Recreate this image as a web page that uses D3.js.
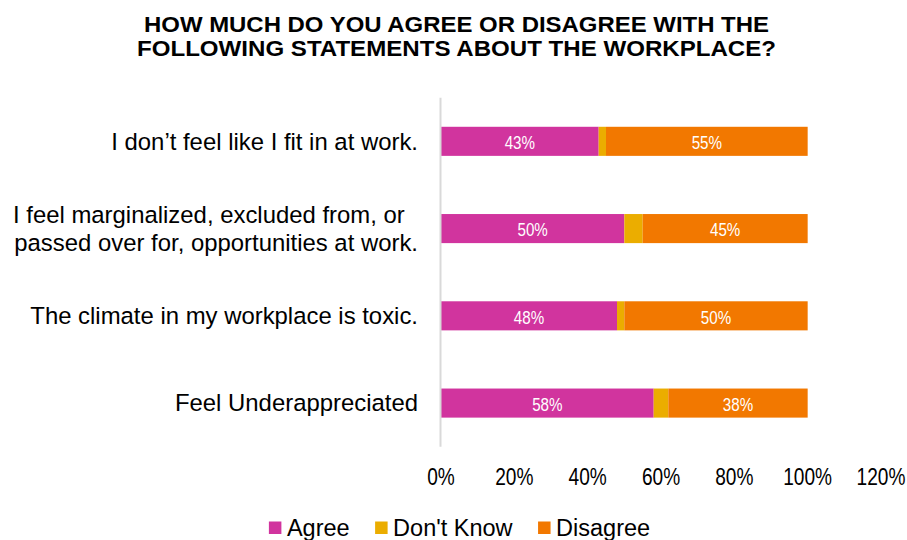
<!DOCTYPE html>
<html>
<head>
<meta charset="utf-8">
<script src="https://cdn.jsdelivr.net/npm/d3@7"></script>
<style>
  body { margin: 0; background: #fff; }
  text { font-family: "Liberation Sans", Arial, sans-serif; }
  .narrow { font-family: "Liberation Sans Narrow", "Arial Narrow", "Liberation Sans", sans-serif; }
</style>
</head>
<body>
<svg id="chart" width="907" height="540"></svg>
<script>
// Survey statements (one array entry per bar, split into display lines)
const categories = [
  ["I don’t feel like I fit in at work."],
  ["I feel marginalized, excluded from, or  ", "passed over for, opportunities at work."],
  ["The climate in my workplace is toxic."],
  ["Feel Underappreciated"]
];
// Share of responses, in percent
const agree    = [43, 50, 48, 58];
const dontKnow = [2, 5, 2, 4];
const disagree = [55, 45, 50, 38];

const seriesNames = ["Agree", "Don't Know", "Disagree"];
const seriesColors = ["#D1349E", "#EBAD00", "#F27800"];
const tickValues = [0, 20, 40, 60, 80, 100, 120];
const titleLines = [
  "HOW MUCH DO YOU AGREE OR DISAGREE WITH THE",
  "FOLLOWING STATEMENTS ABOUT THE WORKPLACE?"
];

const svg = d3.select("#chart");

// Place a narrow-face text at (px, py). If the narrow face is missing,
// squeeze the regular face horizontally to the same proportions.
function placeNarrow(sel, px, py) {
  sel.each(function (d) {
    const node = this;
    const w = node.getComputedTextLength();
    const probe = svg.append("text").attr("font-size", node.getAttribute("font-size")).text(node.textContent);
    const regular = probe.node().getComputedTextLength();
    probe.remove();
    const k = w > regular * 0.9 ? 0.82 : 1;
    d3.select(node)
      .attr("x", 0).attr("y", 0)
      .attr("transform", `translate(${px(d)},${py(d)}) scale(${k},1)`);
  });
}

// rows for the stack layout
const rows = categories.map((c, i) => ({
  idx: i,
  "Agree": agree[i],
  "Don't Know": dontKnow[i],
  "Disagree": disagree[i]
}));
const stacked = d3.stack().keys(seriesNames)(rows);

const x = d3.scaleLinear().domain([0, 120]).range([441, 881]);
const y = d3.scaleBand()
  .domain(d3.range(categories.length))
  .range([97.7, 446.7])
  .paddingInner(2 / 3)
  .paddingOuter(1 / 3);
const color = d3.scaleOrdinal().domain(seriesNames).range(seriesColors);

// title
svg.append("g").selectAll("text")
  .data(titleLines)
  .join("text")
  .attr("x", 456.5)
  .attr("y", (d, i) => 32 + i * 24)
  .attr("text-anchor", "middle")
  .attr("font-weight", "bold")
  .attr("font-size", 22)
  .attr("textLength", (d, i) => [625, 639][i])
  .attr("lengthAdjust", "spacingAndGlyphs")
  .attr("fill", "#000")
  .text(d => d);

// stacked bars
const layers = svg.append("g").selectAll("g")
  .data(stacked)
  .join("g")
  .attr("fill", d => color(d.key));

layers.selectAll("rect")
  .data(d => d)
  .join("rect")
  .attr("x", d => x(d[0]))
  .attr("y", d => y(d.data.idx))
  .attr("width", d => x(d[1]) - x(d[0]))
  .attr("height", y.bandwidth());

// value labels inside the wider segments
const labelG = svg.append("g");
stacked.forEach(layer => {
  labelG.selectAll(null)
    .data(layer.filter(d => d[1] - d[0] >= 10))
    .join("text")
    .attr("class", "narrow")
    .attr("text-anchor", "middle")
    .attr("font-size", 18.5)
    .attr("fill", "#fff")
    .text(d => (d[1] - d[0]) + "%")
    .call(placeNarrow,
      d => (x(d[0]) + x(d[1])) / 2,
      d => y(d.data.idx) + y.bandwidth() / 2 + 7.8);
});

// vertical category axis line
svg.append("line")
  .attr("x1", x(0) - 0.5).attr("x2", x(0) - 0.5)
  .attr("y1", y.range()[0]).attr("y2", y.range()[1])
  .attr("stroke", "#d9d9d9")
  .attr("stroke-width", 2);

// category labels, right-aligned against the axis
const lineGap = 27.7;
svg.append("g").selectAll("text")
  .data(categories)
  .join("text")
  .attr("text-anchor", "end")
  .attr("font-size", 23.9)
  .attr("fill", "#000")
  .style("white-space", "pre")
  .each(function (lines, i) {
    const cy = y(i) + y.bandwidth() / 2 + 8.3 - (lines.length - 1) * lineGap / 2;
    d3.select(this).selectAll("tspan")
      .data(lines)
      .join("tspan")
      .attr("x", 418)
      .attr("y", (d, j) => cy + j * lineGap)
      .text(d => d);
  });

// percentage tick labels
svg.append("g").selectAll("text")
  .data(tickValues)
  .join("text")
  .attr("class", "narrow")
  .attr("text-anchor", "middle")
  .attr("font-size", 23.3)
  .attr("fill", "#000")
  .text(d => d + "%")
  .call(placeNarrow, d => x(d), () => 484.5);

// legend, centred below the chart
const legend = svg.append("g");
const items = legend.selectAll("g")
  .data(seriesNames)
  .join("g");
items.append("rect")
  .attr("y", 521.5)
  .attr("width", 12.5)
  .attr("height", 12.5)
  .attr("fill", d => color(d));
items.append("text")
  .attr("x", 18)
  .attr("y", 535.5)
  .attr("font-size", 23.5)
  .attr("fill", "#000")
  .text(d => d);
const widths = [];
items.each(function () {
  widths.push(18 + d3.select(this).select("text").node().getComputedTextLength());
});
const gap = 25.5;
const total = d3.sum(widths) + gap * (widths.length - 1);
let start = 459.5 - total / 2;
items.attr("transform", (d, i) => {
  const tx = start;
  start += widths[i] + gap;
  return `translate(${tx},0)`;
});
</script>
</body>
</html>
